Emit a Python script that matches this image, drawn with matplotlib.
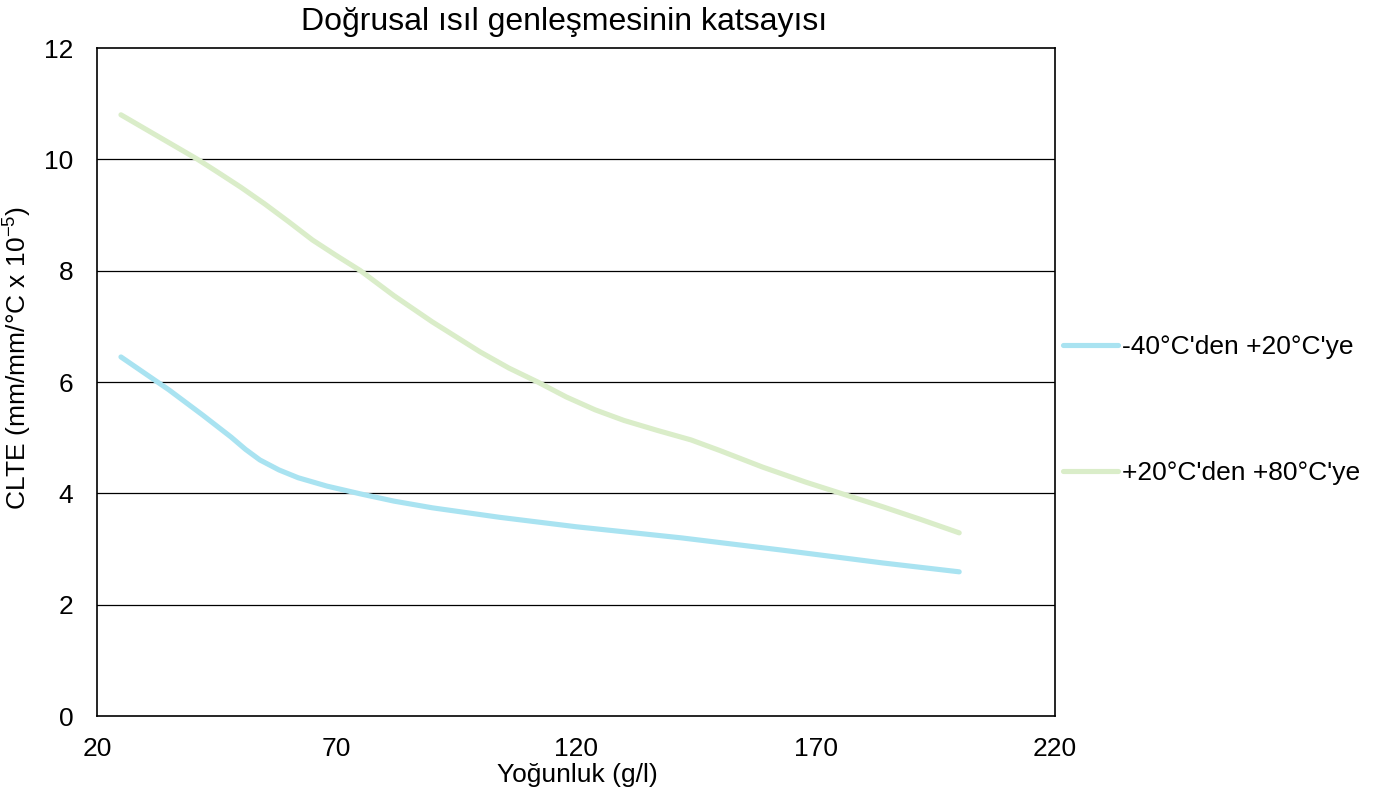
import matplotlib
matplotlib.use("Agg")
import matplotlib.pyplot as plt

plt.rcParams['font.family'] = ['Liberation Sans', 'DejaVu Sans']
plt.rcParams['mathtext.fontset'] = 'custom'
plt.rcParams['mathtext.rm'] = 'Liberation Sans'
plt.rcParams['mathtext.it'] = 'Liberation Sans'

title = "Doğrusal ısıl genleşmesinin katsayısı"
xlabel = "Yoğunluk (g/l)"
ylabel = r"CLTE (mm/mm/°C x 10$^{\mathregular{-5}}$)"

series_names = ["-40°C'den +20°C'ye", "+20°C'den +80°C'ye"]

blue_x = [25, 35, 42, 48, 51, 54, 58, 62, 68, 75, 82, 90, 104, 120, 142, 163, 184, 200]
blue_y = [6.45, 5.86, 5.41, 5.01, 4.79, 4.60, 4.42, 4.28, 4.13, 3.99, 3.86, 3.74, 3.57, 3.40, 3.20, 2.98, 2.75, 2.59]

green_x = [25, 33, 41, 45, 50, 55, 60, 65, 70, 75, 82, 90, 100, 106, 112, 118, 124, 130, 137, 144, 150, 159, 168, 176, 184, 192, 200]
green_y = [10.8, 10.4, 10.0, 9.78, 9.5, 9.2, 8.88, 8.55, 8.27, 8.0, 7.55, 7.08, 6.54, 6.25, 6.0, 5.73, 5.5, 5.31, 5.13, 4.96, 4.77, 4.47, 4.2, 3.98, 3.76, 3.53, 3.29]

xticks = [20, 70, 120, 170, 220]
yticks = [0, 2, 4, 6, 8, 10, 12]

W, H = 1392, 805
fig = plt.figure(figsize=(W / 100, H / 100), dpi=100)
ax = fig.add_axes([97 / W, 1 - 716 / H, (1055 - 97) / W, (716 - 48) / H])

ax.plot(blue_x, blue_y, color='#A9E3F1', lw=3.7, solid_capstyle='round',
        solid_joinstyle='round', label=series_names[0], zorder=3)
ax.plot(green_x, green_y, color='#DAEDC9', lw=3.7, solid_capstyle='round',
        solid_joinstyle='round', label=series_names[1], zorder=3)

ax.set_xlim(20, 220)
ax.set_ylim(0, 12)
ax.set_xticks(xticks)
ax.set_yticks(yticks)
ax.tick_params(length=0, labelsize=19)
ax.tick_params(axis='x', pad=15)
ax.tick_params(axis='y', pad=17)
for y in yticks[1:-1]:
    ax.axhline(y, color='black', lw=0.9, zorder=1)
for s in ax.spines.values():
    s.set_color('black')
    s.set_linewidth(1.2)

fig.text(564 / W, 1 - 22 / H, title, ha='center', va='center', fontsize=23)
fig.text(577 / W, 1 - 775 / H, xlabel, ha='center', va='center', fontsize=19)
fig.text(18 / W, 1 - 358 / H, ylabel, ha='center', va='center', rotation=90, fontsize=19)

leg = ax.legend(loc='center left', bbox_to_anchor=(1 + 8 / 958, (716 - 410) / 668),
                frameon=False, fontsize=19, handlelength=2.08, handletextpad=0.15,
                labelspacing=3.85, borderpad=0, borderaxespad=0)

fig.savefig('out.png', dpi=100)
